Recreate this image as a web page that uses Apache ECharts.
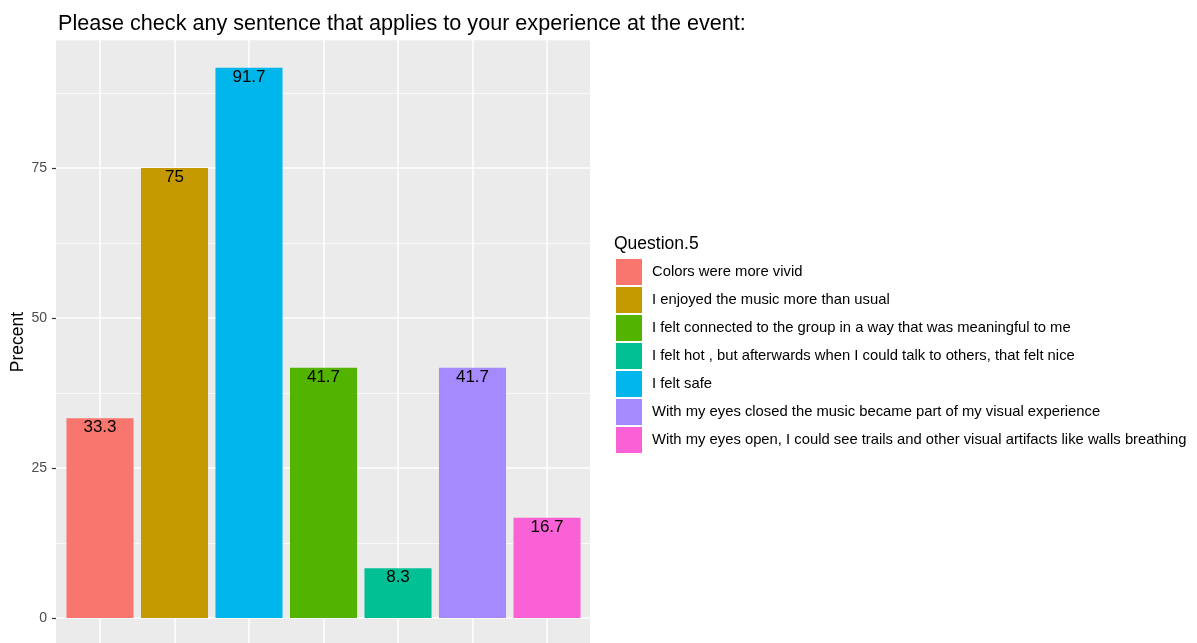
<!DOCTYPE html>
<html>
<head>
<meta charset="utf-8">
<title>Question 5</title>
<script src="https://cdn.jsdelivr.net/npm/echarts@6/dist/echarts.min.js"></script>
<style>
  html, body { margin: 0; padding: 0; background: #fff; overflow: hidden; }
  #main { width: 1197px; height: 800px; }
</style>
</head>
<body>
<div id="main"></div>
<script>
// order of bars on the x axis
const categories = [
  'Colors were more vivid',
  'I enjoyed the music more than usual',
  'I felt safe',
  'I felt connected to the group in a way that was meaningful to me',
  'I felt hot , but afterwards when I could talk to others, that felt nice',
  'With my eyes closed the music became part of my visual experience',
  'With my eyes open, I could see trails and other visual artifacts like walls breathing'
];
const values = [33.3, 75, 91.7, 41.7, 8.3, 41.7, 16.7];

// legend order (factor levels) and the ggplot hue colours that go with it
const legendOrder = [
  'Colors were more vivid',
  'I enjoyed the music more than usual',
  'I felt connected to the group in a way that was meaningful to me',
  'I felt hot , but afterwards when I could talk to others, that felt nice',
  'I felt safe',
  'With my eyes closed the music became part of my visual experience',
  'With my eyes open, I could see trails and other visual artifacts like walls breathing'
];
const colors = ['#F8766D', '#C49A00', '#53B400', '#00C094', '#00B6EB', '#A58AFF', '#FB61D7'];

const yTicks = [0, 25, 50, 75];

const FONT = '"Liberation Sans", Arial, sans-serif';

let chart = echarts.init(document.getElementById('main'));

// one series per answer so the legend lists them; bars overlap in the same slot
let series = legendOrder.map((name, k) => ({
  name: name,
  type: 'bar',
  xAxisIndex: 1,
  yAxisIndex: 1,
  barWidth: '90%',
  barGap: '-100%',
  clip: false,
  itemStyle: { color: colors[k] },
  label: {
    show: true,
    position: 'insideTop',
    distance: 1,
    color: '#000',
    fontSize: 17,
    fontFamily: FONT,
    formatter: p => String(p.value)
  },
  emphasis: { disabled: true },
  data: categories.map((c, i) => (c === name ? values[i] : '-'))
}));

let option = {
  animation: false,
  textStyle: { fontFamily: FONT },
  title: [
    {
      text: 'Please check any sentence that applies to your experience at the event:',
      left: 53,
      top: 8,
      textStyle: { fontSize: 21.6, fontWeight: 'normal', color: '#000', fontFamily: FONT }
    },
    {
      text: 'Question.5',
      left: 614,
      top: 235,
      padding: 0,
      textStyle: { fontSize: 17.5, fontWeight: 'normal', color: '#000', fontFamily: FONT }
    }
  ],
  legend: {
    orient: 'vertical',
    left: 616,
    top: 259,
    padding: 0,
    itemWidth: 26,
    itemHeight: 26,
    itemGap: 2,
    icon: 'rect',
    selectedMode: false,
    data: legendOrder,
    textStyle: { fontSize: 14.8, color: '#000', fontFamily: FONT, padding: [7, 0, 0, 5] }
  },
  graphic: [
    {
      type: 'text',
      x: 18,
      y: 342,
      rotation: Math.PI / 2,
      style: {
        text: 'Precent',
        fontSize: 17.5,
        fontFamily: FONT,
        fill: '#000',
        textAlign: 'center',
        textVerticalAlign: 'middle'
      }
    }
  ],
  grid: [
    // full panel: grey background and horizontal grid lines
    { left: 56, top: 40.3, width: 534, height: 727.7, show: true, backgroundColor: '#EBEBEB', borderWidth: 0 },
    // bar positions: first and last category centres
    { left: 100, top: 40.3, width: 447, height: 727.7 }
  ],
  xAxis: [
    { gridIndex: 0, type: 'value', show: false },
    {
      gridIndex: 1,
      type: 'category',
      data: categories,
      boundaryGap: false,
      axisLine: { show: false },
      axisTick: { show: false },
      axisLabel: { show: false },
      splitLine: { show: true, interval: 0, lineStyle: { color: '#fff', width: 1.5 } }
    }
  ],
  yAxis: [
    {
      gridIndex: 0,
      type: 'value',
      min: -25,
      max: 96.285,
      interval: 25,
      axisLine: { show: false },
      axisTick: { show: true, length: 4, customValues: yTicks, lineStyle: { color: '#333', width: 1.2 } },
      axisLabel: { color: '#4D4D4D', fontSize: 14, margin: 9, customValues: yTicks },
      splitLine: { show: true, lineStyle: { color: '#fff', width: 1.5 } },
      minorTick: { show: false, splitNumber: 2 },
      minorSplitLine: { show: true, lineStyle: { color: '#fff', width: 0.7 } }
    },
    { gridIndex: 1, type: 'value', min: -25, max: 96.285, show: false, splitLine: { show: false } }
  ],
  series: series
};

chart.setOption(option);
</script>
</body>
</html>
